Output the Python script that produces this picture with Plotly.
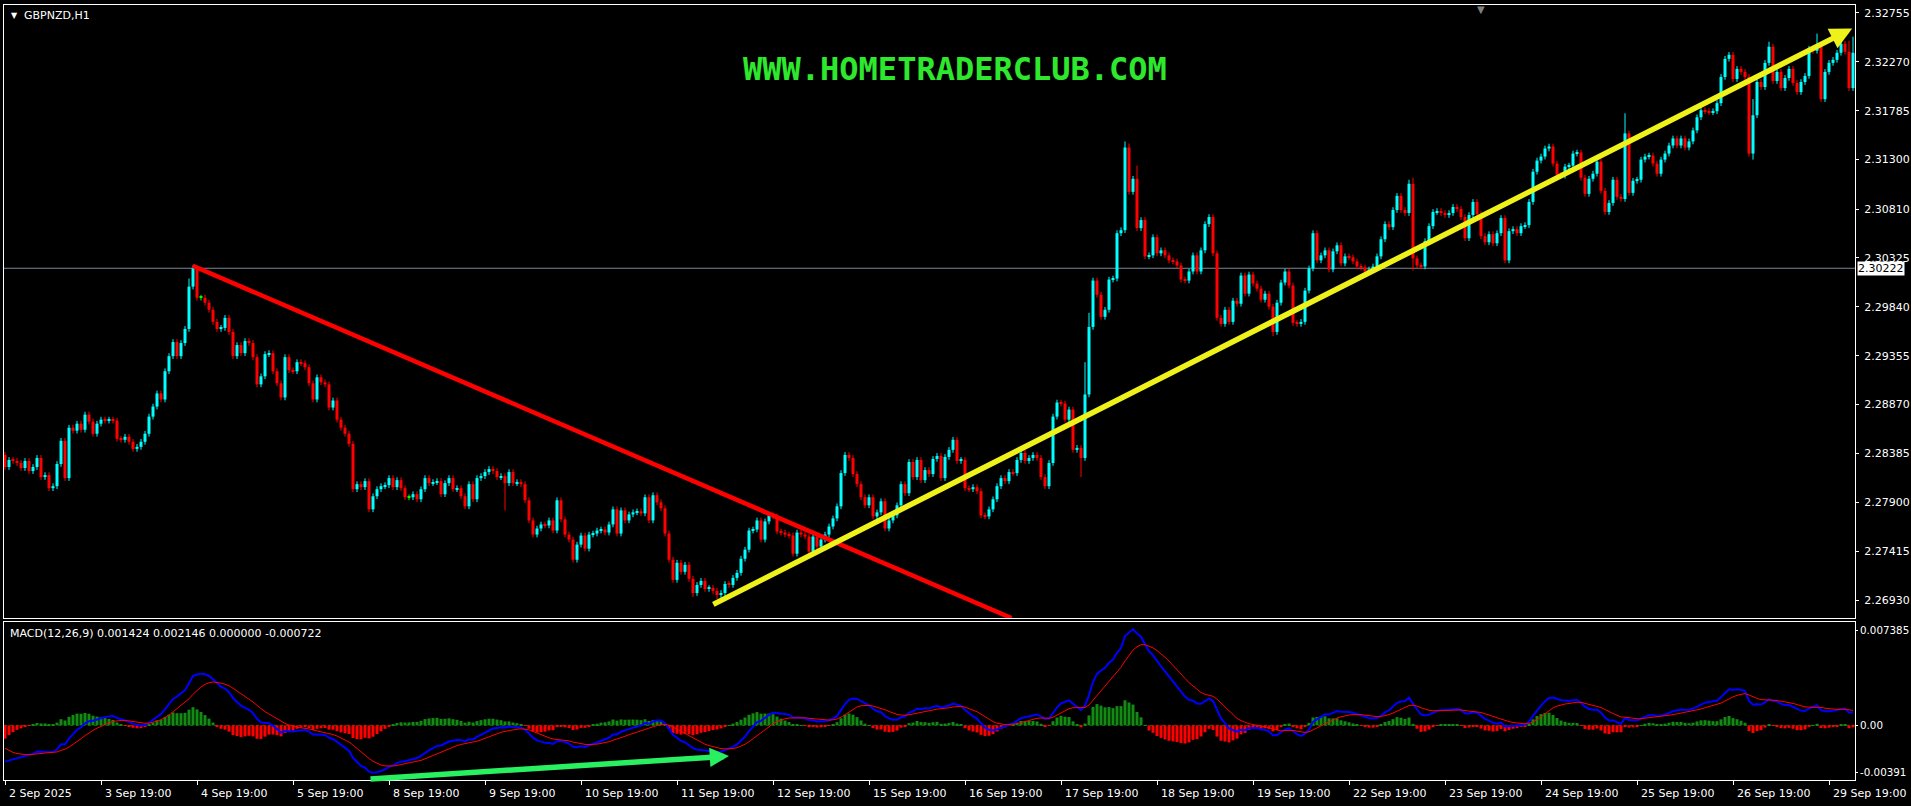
import plotly.graph_objects as go

# ---------------- data ----------------
SYMBOL = "GBPNZD,H1"
WATERMARK = "WWW.HOMETRADERCLUB.COM"
MACD_TITLE = "MACD(12,26,9) 0.001424 0.002146 0.000000 -0.000722"

DAY_LABELS = ["2 Sep 2025", "3 Sep 19:00", "4 Sep 19:00", "5 Sep 19:00", "8 Sep 19:00",
              "9 Sep 19:00", "10 Sep 19:00", "11 Sep 19:00", "12 Sep 19:00", "15 Sep 19:00",
              "16 Sep 19:00", "17 Sep 19:00", "18 Sep 19:00", "19 Sep 19:00", "22 Sep 19:00",
              "23 Sep 19:00", "24 Sep 19:00", "25 Sep 19:00", "26 Sep 19:00", "29 Sep 19:00"]
BARS_PER_LABEL = 24

PRICE_TICKS = [2.26930, 2.27415, 2.27900, 2.28385, 2.28870, 2.29355, 2.29840,
               2.30325, 2.30810, 2.31300, 2.31785, 2.32270, 2.32755]
PRICE_RANGE = [2.26752, 2.32834]
BID = 2.30222

MACD_RANGE = [-0.00391, 0.007385]
MACD_TICK_TEXT = ["0.007385", "0.00", "-0.00391"]

FIRST_OPEN = 2.2837
CLOSES_A = [
    2.2825, 2.2832, 2.2831, 2.2829, 2.2824, 2.2831, 2.2821, 2.2825, 2.2834, 2.2815,
    2.2817, 2.2804, 2.2806, 2.2828, 2.2851, 2.2814, 2.2864, 2.2861, 2.2868, 2.2862,
    2.2877, 2.2870, 2.2858, 2.2868, 2.2872, 2.2871, 2.2872, 2.2871, 2.2853, 2.2852,
    2.2855, 2.2850, 2.2843, 2.2845, 2.2850, 2.2858, 2.2875, 2.2885, 2.2898, 2.2892,
    2.2920, 2.2935, 2.2949, 2.2935, 2.2948, 2.2962, 2.3004, 2.3022, 2.2993, 2.2993,
    2.2988, 2.2981, 2.2969, 2.2962, 2.2963, 2.2973, 2.2959, 2.2935, 2.2946, 2.2938,
    2.2950, 2.2948, 2.2934, 2.2907, 2.2915, 2.2937, 2.2938, 2.2920, 2.2908, 2.2894,
    2.2934, 2.2921, 2.2920, 2.2929, 2.2928, 2.2924, 2.2908, 2.2892, 2.2914, 2.2909,
    2.2907, 2.2884, 2.2891, 2.2872, 2.2864, 2.2858, 2.2848, 2.2803, 2.2808, 2.2805,
    2.2811, 2.2783, 2.2796, 2.2803, 2.2806, 2.2807, 2.2814, 2.2805, 2.2812, 2.2804,
    2.2795, 2.2795, 2.2798, 2.2793, 2.2803, 2.2814, 2.2809, 2.2810, 2.2811, 2.2798,
    2.2809, 2.2814, 2.2803, 2.2804, 2.2796, 2.2786, 2.2808, 2.2793, 2.2814]
CLOSES_B = [
    2.2816, 2.2820, 2.2823, 2.2821, 2.2815, 2.2816, 2.2809, 2.2820, 2.2809, 2.2810,
    2.2808, 2.2792, 2.2772, 2.2758, 2.2764, 2.2768, 2.2767, 2.2772, 2.2762, 2.2792,
    2.2773, 2.2758, 2.2753, 2.2733, 2.2748, 2.2757, 2.2744, 2.2758, 2.2759, 2.2762,
    2.2763, 2.2760, 2.2768, 2.2783, 2.2759, 2.2782, 2.2772, 2.2778, 2.2780, 2.2781,
    2.2779, 2.2795, 2.2772, 2.2797, 2.2790, 2.2784, 2.2759, 2.2733, 2.2713, 2.2730,
    2.2721, 2.2728, 2.2714, 2.2700, 2.2708, 2.2712, 2.2704, 2.2705, 2.2702, 2.2698,
    2.2700, 2.2709, 2.2708, 2.2715, 2.2720, 2.2734, 2.2743, 2.2762, 2.2763, 2.2772,
    2.2753, 2.2771, 2.2777, 2.2776, 2.2761, 2.2760, 2.2758, 2.2757, 2.2739, 2.2760,
    2.2758, 2.2756, 2.2741, 2.2756, 2.2746, 2.2753, 2.2758, 2.2766, 2.2774, 2.2786,
    2.2819, 2.2837, 2.2834, 2.2818, 2.2808, 2.2795, 2.2787, 2.2795, 2.2776, 2.2780,
    2.2791, 2.2764, 2.2772, 2.2777, 2.2787, 2.2808, 2.2799, 2.2830, 2.2815, 2.2832,
    2.2812, 2.2822, 2.2818, 2.2833, 2.2836, 2.2814, 2.2835, 2.2842]
CLOSES_C = [
    2.2852, 2.2831, 2.2832, 2.2804, 2.2803, 2.2805, 2.2801, 2.2777, 2.2776, 2.2783,
    2.2793, 2.2806, 2.2814, 2.2811, 2.2820, 2.2819, 2.2832, 2.2839, 2.2831, 2.2834,
    2.2837, 2.2834, 2.2815, 2.2806, 2.2829, 2.2875, 2.2889, 2.2888, 2.2872, 2.2882,
    2.2842, 2.2844, 2.2834, 2.2897, 2.2964, 2.3010, 2.2996, 2.2974, 2.2981, 2.3011,
    2.3012, 2.3057, 2.3060, 2.3142, 2.3098, 2.3111, 2.3062, 2.3070, 2.3034, 2.3035,
    2.3053, 2.3037, 2.3040, 2.3035, 2.3030, 2.3029, 2.3025, 2.3011, 2.3010, 2.3019,
    2.3035, 2.3019, 2.3040, 2.3066, 2.3073, 2.3037, 2.2973, 2.2967, 2.2981, 2.2969,
    2.2990, 2.2987, 2.3015, 2.2997, 2.3016, 2.3007, 2.3002, 2.2991, 2.2997, 2.2984,
    2.2959, 2.2988, 2.3008, 2.3019, 2.3005, 2.2968, 2.2967, 2.2969, 2.3000, 2.3022,
    2.3057, 2.3030, 2.3035, 2.3040, 2.3021, 2.3039, 2.3045, 2.3027, 2.3034, 2.3033,
    2.3029, 2.3024, 2.3023, 2.3019, 2.3021, 2.3024, 2.3034, 2.3051, 2.3066, 2.3063,
    2.3080, 2.3094, 2.3080, 2.3077, 2.3106, 2.3032, 2.3025]
CLOSES_D = [
    2.3024, 2.3049, 2.3064, 2.3078, 2.3079, 2.3077, 2.3075, 2.3077, 2.3083, 2.3081,
    2.3073, 2.3052, 2.3075, 2.3088, 2.3076, 2.3054, 2.3048, 2.3056, 2.3047, 2.3057,
    2.3072, 2.3030, 2.3059, 2.3061, 2.3057, 2.3064, 2.3065, 2.3088, 2.3118, 2.3129,
    2.3133, 2.3141, 2.3143, 2.3126, 2.3115, 2.3114, 2.3123, 2.3124, 2.3136, 2.3137,
    2.3112, 2.3096, 2.3111, 2.3116, 2.3128, 2.3099, 2.3078, 2.3087, 2.3110, 2.3093,
    2.3091, 2.3156, 2.3097, 2.3109, 2.3110, 2.3130, 2.3133, 2.3134, 2.3126, 2.3116,
    2.3130, 2.3136, 2.3144, 2.3151, 2.3144, 2.3151, 2.3142, 2.3148, 2.3159, 2.3172,
    2.3179, 2.3178, 2.3177, 2.3178, 2.3186, 2.3212, 2.3230, 2.3234, 2.3210, 2.3220,
    2.3217, 2.3212, 2.3136, 2.3174, 2.3207, 2.3202, 2.3226, 2.3242, 2.3208, 2.3217,
    2.3201, 2.3211, 2.3220, 2.3206, 2.3197, 2.3207, 2.3213, 2.3240, 2.3238, 2.3244,
    2.3190, 2.3217, 2.3226, 2.3229, 2.3236, 2.3245, 2.3237, 2.3201, 2.3236]

WICK = 0.00028  # typical wick beyond the body
HIGH_OVERRIDES = {47: 2.3025, 46: 2.3012, 270: 2.2929, 271: 2.2978, 280: 2.3148, 281: 2.3146,
                  283: 2.3124, 351: 2.3110, 352: 2.3112, 405: 2.3176, 437: 2.3190,
                  441: 2.3247, 453: 2.3255, 461: 2.3248, 462: 2.3252}
LOW_OVERRIDES = {91: 2.2782, 125: 2.2782, 178: 2.2694, 172: 2.2696, 269: 2.2815,
                 317: 2.2955, 352: 2.3020, 436: 2.3133, 437: 2.3130, 461: 2.3198}

# indicator state at the first visible bar
EMA12_START = 2.2849
EMA26_START = 2.2875
SIGNAL_START = -0.0014

# user drawn objects (bar index, price / macd value)
RED_LINE = [(46.9, 2.30247), (116.25, 2.29063)]
YELLOW_ARROW = [(176.7, 2.26880), (461.8, 2.32600)]
GREEN_ARROW = [(91.0, -0.00384), (181.0, -0.00220)]

# ---------------- derived series ----------------
closes = CLOSES_A + CLOSES_B + CLOSES_C + CLOSES_D
n = len(closes)
idx = list(range(n))
opens = [FIRST_OPEN] + closes[:-1]
highs, lows = [], []
for i in idx:
    hi = max(opens[i], closes[i]) + WICK
    lo = min(opens[i], closes[i]) - WICK
    hi = max(hi, HIGH_OVERRIDES.get(i, hi))
    lo = min(lo, LOW_OVERRIDES.get(i, lo))
    highs.append(hi)
    lows.append(lo)

a12, a26, a9 = 2 / 13, 2 / 27, 2 / 10
e12, e26, sig = EMA12_START, EMA26_START, SIGNAL_START
macd, signal, hist = [], [], []
for c in closes:
    e12 += a12 * (c - e12)
    e26 += a26 * (c - e26)
    m = e12 - e26
    sig += a9 * (m - sig)
    macd.append(m)
    signal.append(sig)
    hist.append(m - sig)

# ---------------- figure ----------------
W, H = 1911, 806
ML, MR, MT, MB = 4, 56, 5, 26
plot_h = H - MT - MB
price_bottom = (780 - 618) / plot_h
macd_top = (780 - 622) / plot_h

BULL, BEAR, DOJI = "#00ffff", "#ff0000", "#00ff00"
MIN_BODY = 0.00009

fig = go.Figure()

groups = {"bull": ([], BULL), "bear": ([], BEAR), "doji": ([], DOJI)}
for i in idx:
    if closes[i] > opens[i]:
        groups["bull"][0].append(i)
    elif closes[i] < opens[i]:
        groups["bear"][0].append(i)
    else:
        groups["doji"][0].append(i)

for name, (ids, col) in groups.items():
    if not ids:
        continue
    wx, wy = [], []
    for i in ids:
        wx += [i, i, None]
        wy += [lows[i], highs[i], None]
    fig.add_trace(go.Scatter(x=wx, y=wy, mode="lines", line=dict(color=col, width=1),
                             hoverinfo="skip", showlegend=False, xaxis="x", yaxis="y"))
    bases = [min(opens[i], closes[i]) for i in ids]
    hts = [max(abs(closes[i] - opens[i]), MIN_BODY) for i in ids]
    fig.add_trace(go.Bar(x=ids, y=hts, base=bases, width=0.75,
                         marker=dict(color=col, line=dict(width=0)),
                         hoverinfo="skip", showlegend=False, xaxis="x", yaxis="y"))

# MACD histogram
pos_x = [i for i in idx if hist[i] >= 0]
neg_x = [i for i in idx if hist[i] < 0]
fig.add_trace(go.Bar(x=pos_x, y=[hist[i] for i in pos_x], width=0.75,
                     marker=dict(color="#138a13", line=dict(width=0)),
                     hoverinfo="skip", showlegend=False, xaxis="x2", yaxis="y2"))
fig.add_trace(go.Bar(x=neg_x, y=[hist[i] for i in neg_x], width=0.75,
                     marker=dict(color="#ff0000", line=dict(width=0)),
                     hoverinfo="skip", showlegend=False, xaxis="x2", yaxis="y2"))
fig.add_trace(go.Scatter(x=idx, y=macd, mode="lines", line=dict(color="#0000ff", width=2),
                         hoverinfo="skip", showlegend=False, xaxis="x2", yaxis="y2"))
fig.add_trace(go.Scatter(x=idx, y=signal, mode="lines", line=dict(color="#ff0000", width=1),
                         hoverinfo="skip", showlegend=False, xaxis="x2", yaxis="y2"))

xr = [-0.25, 462.5]
tick_idx = [k * BARS_PER_LABEL for k in range(len(DAY_LABELS))]
axis_font = dict(family="DejaVu Sans", size=11, color="white")
macd_axis_font = dict(family="DejaVu Sans", size=10.3, color="white")

# MACD tick positions nudged inside the pane like the terminal does
mspan = MACD_RANGE[1] - MACD_RANGE[0]
per_px = mspan / 158
macd_tickvals = [MACD_RANGE[1] - 8 * per_px, 0.0, MACD_RANGE[0] + 8 * per_px]

fig.update_layout(
    width=W, height=H,
    margin=dict(l=ML, r=MR, t=MT, b=MB, autoexpand=False),
    paper_bgcolor="black", plot_bgcolor="black",
    barmode="overlay", showlegend=False,
    xaxis=dict(domain=[0, 1], range=xr, showgrid=False, zeroline=False,
               showticklabels=False, ticks="", anchor="y",
               showline=True, linecolor="white", linewidth=1, mirror=True),
    yaxis=dict(domain=[price_bottom, 1], range=PRICE_RANGE, side="right",
               showgrid=False, zeroline=False, tickvals=PRICE_TICKS,
               ticktext=[f"{v:.5f}" for v in PRICE_TICKS], ticks="outside",
               ticklen=3, tickcolor="white", tickfont=axis_font, anchor="x",
               showline=True, linecolor="white", linewidth=1, mirror=True,
               ticklabelstandoff=3, automargin=False),
    xaxis2=dict(domain=[0, 1], range=xr, showgrid=False, zeroline=False,
                showticklabels=False, tickvals=tick_idx, ticks="outside", ticklen=4,
                tickcolor="white", anchor="y2",
                showline=True, linecolor="white", linewidth=1, mirror=True),
    yaxis2=dict(domain=[0, macd_top], range=MACD_RANGE, side="right",
                showgrid=False, zeroline=False, tickvals=macd_tickvals,
                ticktext=MACD_TICK_TEXT, ticks="outside", ticklen=2,
                tickcolor="white", tickfont=macd_axis_font, anchor="x2",
                showline=True, linecolor="white", linewidth=1, mirror=True,
                ticklabelstandoff=0, automargin=False),
)

shapes = []
# bid line
shapes.append(dict(type="line", xref="x", yref="y", x0=xr[0], x1=xr[1], y0=BID, y1=BID,
                   line=dict(color="#778899", width=1), layer="below"))
# zero level in macd pane
shapes.append(dict(type="line", xref="x2", yref="y2", x0=xr[0], x1=xr[1], y0=0, y1=0,
                   line=dict(color="#107010", width=1, dash="dot"), layer="below"))
# red trend line extended down to the pane bottom
(rx0, ry0), (rx1, ry1) = RED_LINE
slope = (ry1 - ry0) / (rx1 - rx0)
rx_end = rx0 + (PRICE_RANGE[0] - ry0) / slope
shapes.append(dict(type="line", xref="x", yref="y", x0=rx0, y0=ry0, x1=rx_end,
                   y1=PRICE_RANGE[0], line=dict(color="#ff0000", width=4.5)))
fig.update_layout(shapes=shapes)

wm_price = PRICE_RANGE[1] - (69 - MT) * (PRICE_RANGE[1] - PRICE_RANGE[0]) / (618 - MT)

ann = []
# yellow arrow
(yx0, yy0), (yx1, yy1) = YELLOW_ARROW
ann.append(dict(x=yx1, y=yy1, xref="x", yref="y", ax=yx0, ay=yy0, axref="x", ayref="y",
                text="", showarrow=True, arrowhead=2, arrowsize=0.8, arrowwidth=5.5,
                arrowcolor="#eef21a", standoff=0))
# green arrow in macd pane
(gx0, gy0), (gx1, gy1) = GREEN_ARROW
ann.append(dict(x=gx1, y=gy1, xref="x2", yref="y2", ax=gx0, ay=gy0, axref="x2", ayref="y2",
                text="", showarrow=True, arrowhead=2, arrowsize=0.7, arrowwidth=5.5,
                arrowcolor="#28f060", standoff=0))
# date labels
for k, lab in zip(tick_idx, DAY_LABELS):
    ann.append(dict(x=k, y=0, xref="x2", yref="paper", text=lab, showarrow=False,
                    xanchor="left", yanchor="top", xshift=2, yshift=-5, font=axis_font))
# bid label box
ann.append(dict(x=1, y=BID, xref="paper", yref="y", text="2.30222", showarrow=False,
                xanchor="left", yanchor="middle", xshift=2, bgcolor="white",
                font=dict(family="DejaVu Sans", size=11, color="black"), borderpad=0))
# title
ann.append(dict(x=0, y=1, xref="paper", yref="paper", text="▼", showarrow=False,
                xanchor="left", yanchor="top", xshift=5, yshift=-4,
                font=dict(family="DejaVu Sans", size=8, color="white")))
ann.append(dict(x=0, y=1, xref="paper", yref="paper", text=SYMBOL, showarrow=False,
                xanchor="left", yanchor="top", xshift=18, yshift=-2,
                font=dict(family="DejaVu Sans", size=11, color="white")))
# chart-shift marker
ann.append(dict(x=(1481 - ML) / (W - ML - MR), y=1, xref="paper", yref="paper", text="▼",
                showarrow=False, xanchor="center", yanchor="top", yshift=3,
                font=dict(family="DejaVu Sans", size=10, color="#808080")))
# watermark
ann.append(dict(x=(955 - ML) / (W - ML - MR), y=wm_price, xref="paper", yref="y",
                text="<b>" + WATERMARK + "</b>",
                showarrow=False, xanchor="center", yanchor="middle",
                font=dict(family="DejaVu Sans Mono", size=32, color="#2ee82e")))
# macd title
ann.append(dict(x=0, y=macd_top, xref="paper", yref="paper", text=MACD_TITLE, showarrow=False,
                xanchor="left", yanchor="top", xshift=4, yshift=-3,
                font=dict(family="DejaVu Sans", size=11, color="white")))
fig.update_layout(annotations=ann)

fig.write_html("out.html",
               config={"displayModeBar": False},
               post_script="document.body.style.margin='0px';"
                           "document.body.style.background='black';")
